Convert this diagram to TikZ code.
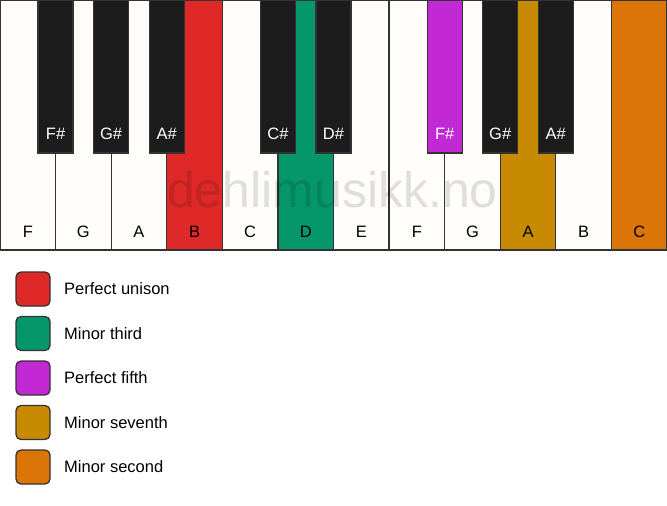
\documentclass[tikz,border=0pt]{standalone}
\usepackage{fontspec}
\setmainfont{Liberation Sans}
\definecolor{keywhite}{HTML}{FFFDF9}
\definecolor{keyblack}{HTML}{1C1C1C}
\definecolor{keyline}{HTML}{333333}
\definecolor{cunison}{HTML}{DF2828}
\definecolor{cthird}{HTML}{05966A}
\definecolor{cfifth}{HTML}{C228D4}
\definecolor{cseventh}{HTML}{C98A03}
\definecolor{csecond}{HTML}{DB7507}
\tikzset{
  whitekey/.style={rectangle, draw=keyline, line width=1.3pt, fill=keywhite, minimum width=55.583pt, minimum height=250pt, inner sep=0pt, outer sep=0pt, anchor=north west},
  blackkey/.style={rectangle, draw=keyline, line width=1.3pt, fill=keyblack, minimum width=35pt, minimum height=153pt, inner sep=0pt, outer sep=0pt, anchor=north},
  wlabel/.style={font=\fontsize{16.5}{19}\selectfont, text=black, anchor=base, inner sep=0pt},
  blabel/.style={font=\fontsize{16.5}{19}\selectfont, text=white, anchor=base, inner sep=0pt},
  legendbox/.style={rectangle, rounded corners=5pt, draw=keyline, line width=1.3pt, minimum width=34pt, minimum height=34pt, inner sep=0pt},
  legendtext/.style={font=\fontsize{16.5}{19}\selectfont, anchor=west, inner sep=0pt},
  watermark/.style={font=\fontsize{50}{54}\selectfont, text=black, text opacity=0.12, anchor=base, inner sep=0pt}
}
\begin{document}
\begin{tikzpicture}[x=1pt, y=-1pt]
\useasboundingbox (0,0) rectangle (667,506);
\fill[white] (0,0) rectangle (667,506);
% white keys
\foreach \i/\n/\c in {0/F/keywhite,1/G/keywhite,2/A/keywhite,3/B/cunison,4/C/keywhite,5/D/cthird,6/E/keywhite,7/F/keywhite,8/G/keywhite,9/A/cseventh,10/B/keywhite,11/C/csecond}{
  \node[whitekey, fill=\c] (w\i) at ({\i*55.583},0) {};
  \node[wlabel] (lw\i) at ([yshift=12.5pt]w\i.south) {\n};
}
% black keys
\foreach \i/\n/\c in {1/F\#/keyblack,2/G\#/keyblack,3/A\#/keyblack,5/C\#/keyblack,6/D\#/keyblack,8/F\#/cfifth,9/G\#/keyblack,10/A\#/keyblack}{
  \node[blackkey, fill=\c] (b\i) at ({\i*55.583},0) {};
  \node[blabel] (lb\i) at ([yshift=14pt]b\i.south) {\n};
}
% watermark
\node[watermark] (wm) at (332.5,207) {dehlimusikk.no};
% legend
\foreach \k/\y/\c/\t in {1/289/cunison/Perfect unison,2/333.5/cthird/Minor third,3/378/cfifth/Perfect fifth,4/422.5/cseventh/Minor seventh,5/467/csecond/Minor second}{
  \node[legendbox, fill=\c] (lg\k) at (33,\y) {};
  \node[legendtext] (lt\k) at (64,\y) {\t};
}
\end{tikzpicture}
\end{document}
